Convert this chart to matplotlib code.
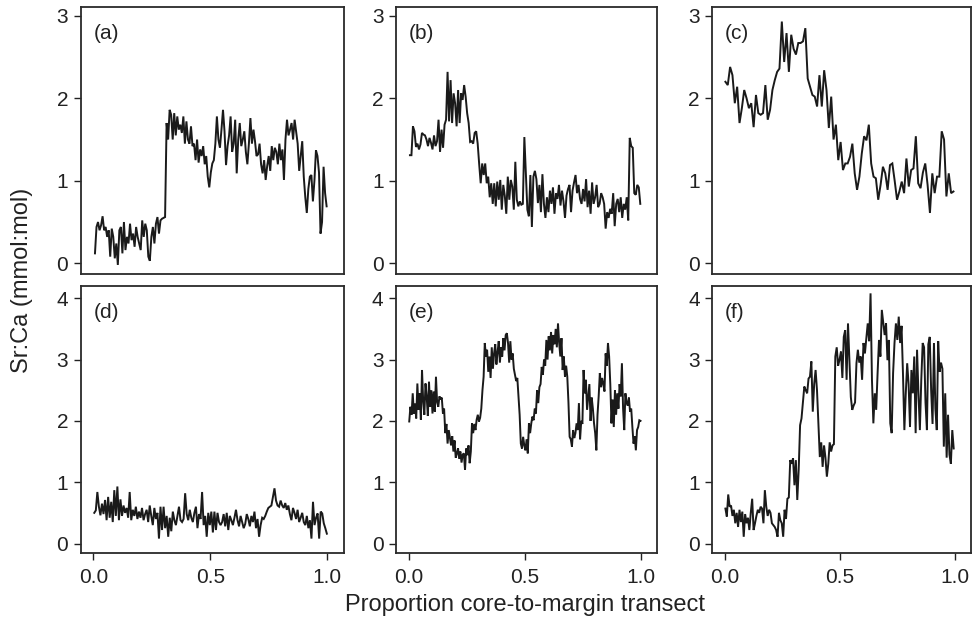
import matplotlib
matplotlib.use("Agg")
import matplotlib.pyplot as plt
import numpy as np

plt.rcParams['font.family'] = ['Liberation Sans', 'DejaVu Sans']

# ---------------- data ----------------
a_vals = [
    0.12, 0.44, 0.50, 0.40, 0.46, 0.57, 0.40, 0.44, 0.32, 0.40, 0.08, 0.42, 0.32, 0.06, 0.24, -0.02,
    0.40, 0.44, 0.12, 0.50, 0.16, 0.32, 0.24, 0.48, 0.28, 0.36, 0.20, 0.44, 0.32, 0.24, 0.16, 0.52,
    0.32, 0.48, 0.40, 0.08, 0.03, 0.32, 0.44, 0.24, 0.48, 0.56, 0.36, 0.52, 0.54, 0.55, 0.56,
    1.70, 1.50, 1.86, 1.80, 1.50, 1.82, 1.55, 1.78, 1.62, 1.68, 1.58, 1.78, 1.45, 1.72, 1.50, 1.45,
    1.66, 1.42, 1.45, 1.25, 1.50, 1.22, 1.38, 1.30, 1.42, 1.20, 1.30, 1.05, 0.92, 1.10, 1.21, 1.25,
    1.45, 1.78, 1.50, 1.40, 1.62, 1.86, 1.60, 1.19, 1.42, 1.55,
    1.78, 1.35, 1.45, 1.74, 1.09, 1.50, 1.70, 1.42, 1.50, 1.60,
    1.35, 1.20, 1.45, 1.76, 1.45, 1.62, 1.48, 1.30, 1.32, 1.45,
    1.20, 1.09, 1.25, 1.01, 1.18, 1.30, 1.12, 1.42, 1.25, 1.40,
    1.35, 1.20, 1.45, 1.25, 1.38, 1.01, 1.50, 1.74, 1.55, 1.62,
    1.70, 1.50, 1.74, 1.60, 1.45, 1.12, 1.30, 1.48, 1.05, 0.80,
    0.61, 0.90, 1.05, 1.07, 0.75, 1.00, 1.37, 1.30, 1.10, 0.36,
    0.50, 1.17, 0.85, 0.69]

b_vals = [
    1.31, 1.31, 1.66, 1.60, 1.41, 1.45, 1.38, 1.44, 1.58, 1.56, 1.55, 1.50, 1.42, 1.52, 1.46, 1.38,
    1.55, 1.42, 1.48, 1.74, 1.35, 1.62, 1.40, 1.68, 1.74,
    2.32, 1.72, 2.22, 1.70, 2.06, 1.94, 1.66, 2.10, 1.70, 2.06, 1.98, 2.16, 2.02, 1.82, 1.70, 1.47,
    1.48, 1.45, 1.58, 1.60, 1.45, 1.20, 0.97, 1.21, 1.07, 1.21, 0.97,
    1.05, 0.80, 0.97, 0.72, 0.97, 0.69, 0.99, 0.77, 1.01, 0.65, 0.95, 0.82, 0.60, 1.05, 0.77, 1.01,
    0.93, 0.65, 1.23, 0.77, 0.69, 0.75, 0.71, 0.72,
    1.53, 1.10, 0.65, 0.57, 1.07, 0.44,
    1.05, 1.12, 1.02, 0.73, 0.95, 0.62, 1.08, 0.72, 0.55, 0.80,
    0.62, 0.88, 0.72, 0.92, 0.60, 0.85, 0.78, 0.95, 0.70, 0.88,
    0.75, 0.55, 0.82, 0.90, 0.95, 0.62, 0.88, 0.98, 1.07, 0.85,
    0.95, 0.78, 0.72, 0.90, 0.75, 1.02, 0.68, 0.88, 0.60, 0.98,
    0.72, 0.80, 0.95, 0.68, 0.72, 0.85, 0.80, 0.72, 0.42, 0.62,
    0.55, 0.66, 0.60, 0.85, 0.45, 0.72, 0.78, 0.62, 0.80, 0.55,
    0.72, 0.65, 0.80, 0.52, 1.52, 1.42, 1.40, 0.85, 0.83, 0.95,
    0.92, 0.72]

c_vals = [
    2.20, 2.16, 2.38, 2.28, 1.94, 2.14, 1.70, 1.88,
    2.10, 2.00, 1.88, 1.94, 1.65, 2.04, 1.82, 1.80, 1.82,
    2.16, 1.74, 1.86, 2.10, 2.22, 2.32, 2.36, 2.93, 2.44,
    2.79, 2.32, 2.77, 2.60, 2.53, 2.67, 2.67, 2.69, 2.85, 2.24,
    2.14, 2.04, 2.02, 1.90, 2.28, 1.90, 2.34, 2.10, 1.64, 2.02,
    1.50, 1.68, 1.25, 1.47, 1.13, 1.21, 1.21, 1.29, 1.45, 1.09,
    0.89, 1.05, 1.33, 1.54, 1.49, 1.68, 1.21, 1.05, 1.03, 0.77, 0.95,
    1.17, 1.09, 0.89, 1.19, 1.21, 1.00, 0.77, 0.87, 0.99, 0.85,
    1.27, 0.93, 1.13, 1.15, 1.54, 0.97, 0.91, 1.10, 1.21, 0.95, 0.61,
    1.09, 0.85, 1.05, 1.05, 1.60, 1.50, 0.81, 1.09, 0.85, 0.87]

d_vals = [
    0.50, 0.54, 0.84, 0.60, 0.46, 0.65, 0.48, 0.71, 0.38, 0.76, 0.42, 0.68, 0.35, 0.87, 0.45, 0.93,
    0.38, 0.72, 0.45, 0.62, 0.50, 0.58, 0.42, 0.84, 0.38, 0.55, 0.45, 0.60, 0.40, 0.52, 0.42, 0.58,
    0.38, 0.48, 0.55, 0.35, 0.62, 0.45, 0.30, 0.58, 0.40, 0.50, 0.08,
    0.60, 0.22, 0.60, 0.25, 0.45, 0.11, 0.42, 0.20, 0.52, 0.38,
    0.30, 0.45, 0.60, 0.38, 0.35, 0.40, 0.82, 0.48, 0.38, 0.55,
    0.42, 0.35, 0.50, 0.60, 0.25, 0.48, 0.40, 0.84, 0.30, 0.45,
    0.11, 0.50, 0.30, 0.52, 0.18, 0.52, 0.22, 0.50, 0.35, 0.30,
    0.35, 0.48, 0.28, 0.50, 0.22, 0.45, 0.38, 0.30,
    0.42, 0.55, 0.38, 0.28, 0.45, 0.35, 0.25, 0.32, 0.48, 0.40,
    0.28, 0.45, 0.35, 0.52, 0.25, 0.40, 0.11, 0.30, 0.42, 0.40,
    0.45, 0.52, 0.58, 0.60, 0.62, 0.76, 0.90, 0.70, 0.62, 0.60,
    0.70, 0.62, 0.58, 0.66, 0.55, 0.62, 0.48, 0.38, 0.58, 0.50, 0.40, 0.55, 0.35, 0.42, 0.50, 0.35,
    0.30, 0.45, 0.25, 0.38, 0.08, 0.68, 0.30, 0.42, 0.49, 0.08, 0.52, 0.49, 0.33, 0.25, 0.16]

e_vals = [
    1.99, 2.23, 2.10, 2.45, 2.12, 2.28, 2.04, 2.61, 2.18, 2.45,
    2.02, 2.83, 2.32, 2.10, 2.61, 2.40, 2.08, 2.64, 2.23, 2.50,
    2.12, 2.48, 2.15, 2.72, 2.30, 2.23, 2.40, 2.35, 2.38, 2.12,
    2.20, 1.80, 1.95, 1.63, 1.85, 1.72, 1.60, 1.75, 1.50, 1.68,
    1.40, 1.47, 1.55, 1.38, 1.50, 1.32, 1.45, 1.47, 1.20,
    1.55, 1.44, 1.60, 1.31, 1.50, 1.96, 1.80, 1.95, 1.85, 2.02,
    2.10, 1.99, 2.05, 2.20, 2.50, 2.72, 3.27, 3.05, 3.16, 2.80,
    3.05, 2.70, 3.20, 2.85, 3.10, 3.25, 2.92, 3.12, 3.30, 2.95,
    3.20, 3.05, 3.35, 3.15, 3.40, 3.43,
    3.27, 2.95, 3.30, 3.00, 3.10, 2.85, 2.75, 2.65, 2.70, 2.39,
    2.10, 1.63, 1.55, 1.74, 1.60, 1.52, 1.70, 1.47,
    1.96, 1.80, 1.96, 2.07, 2.01, 2.20, 2.12, 2.50, 2.29, 2.55,
    2.60, 2.88, 2.75, 3.00, 2.90, 3.32, 3.00, 3.38, 3.15, 3.45,
    3.10, 3.40, 3.25, 3.50, 3.20, 3.59,
    3.27, 3.05, 3.35, 2.83, 3.05, 2.72, 2.90, 2.72, 2.30, 1.74, 1.70, 1.58,
    1.85, 1.72, 1.80, 1.96, 1.85, 2.29, 1.70, 2.00, 1.95, 2.83,
    2.45, 2.67, 2.18, 2.40, 2.60, 2.00, 2.38, 2.20, 1.96, 1.80, 1.52,
    2.10, 2.40, 2.78, 2.55, 2.70, 2.60, 2.48, 3.10, 2.90, 3.27,
    3.05, 2.60, 1.96, 2.35, 1.90, 2.50, 2.10, 2.45, 2.20, 2.60,
    2.40, 2.94, 2.20, 1.85, 2.45, 2.30, 2.25, 2.38, 2.15, 2.20,
    1.90, 1.63, 1.75, 1.52,
    1.85, 1.90, 2.01, 2.00]

f_vals = [
    0.57, 0.44, 0.80, 0.60, 0.62, 0.45, 0.55, 0.33, 0.50, 0.27,
    0.55, 0.35, 0.52, 0.11, 0.48, 0.33, 0.42, 0.22, 0.50, 0.73,
    0.22, 0.33, 0.45, 0.55, 0.50, 0.60, 0.57, 0.33, 0.87, 0.60,
    0.45, 0.55, 0.50, 0.33, 0.30, 0.27, 0.22, 0.11, 0.50, 0.38,
    0.33, 0.11, 0.55, 0.40,
    0.73, 0.75, 1.36, 1.30, 1.39, 0.95, 1.36, 0.71, 1.20, 1.93,
    2.04, 2.30, 2.56, 2.50, 2.45, 2.69, 2.72, 2.97, 2.15, 2.60,
    2.83, 2.50, 1.96, 1.41, 1.65, 1.25, 1.60, 1.40, 1.09, 1.30, 1.65,
    1.50, 1.60, 1.62, 3.05, 3.20, 2.90, 3.00, 3.13, 2.70, 3.37, 3.48,
    2.67, 3.59, 3.00, 2.39, 2.18, 2.25, 2.30, 2.94, 3.16, 2.95, 3.05, 2.67,
    3.27, 3.10, 3.35, 3.59, 3.30, 4.08,
    2.67, 1.96, 2.45, 2.18, 2.78, 3.32, 3.05, 3.81, 3.60, 3.40,
    3.59, 2.99, 3.32, 1.96, 1.80, 2.78, 3.27, 3.59, 3.32, 3.70,
    3.27, 3.55, 2.78, 1.85, 2.45, 2.94, 2.60, 1.90, 2.83, 2.45,
    3.05, 1.80, 3.16, 2.45, 1.85, 2.67, 3.27, 3.20, 2.30, 1.85,
    3.25, 3.37, 2.50, 1.95, 3.27, 2.20, 1.85, 3.30, 2.80, 2.95,
    2.85, 1.58, 2.45, 1.40, 2.10, 1.45, 1.30, 1.85, 1.55]

series = [a_vals, b_vals, c_vals, d_vals, e_vals, f_vals]
panel_labels = ["(a)", "(b)", "(c)", "(d)", "(e)", "(f)"]
x_start = [0.007, 0.006, 0.003, 0.004, 0.003, 0.003]
x_end = [0.997, 0.998, 0.995, 0.998, 0.999, 0.996]
top_yticks = [0, 1, 2, 3]
bottom_yticks = [0, 1, 2, 3, 4]
xticks = [0.0, 0.5, 1.0]
xtick_labels = ["0.0", "0.5", "1.0"]

# ---------------- figure ----------------
W, H = 972, 626
fig = plt.figure(figsize=(W / 100, H / 100), dpi=100)

lefts = [80.7, 396.0, 712.3]
widths = [263.0, 261.0, 258.4]
rows = [(6.7, 274.0), (286.0, 552.7)]

line_col = "#1a1a1a"
for i, vals in enumerate(series):
    r, c = divmod(i, 3)
    top, bot = rows[r]
    ax = fig.add_axes([lefts[c] / W, 1 - bot / H, widths[c] / W, (bot - top) / H])
    x = np.linspace(x_start[i], x_end[i], len(vals))
    ax.plot(x, vals, color=line_col, lw=1.4, solid_joinstyle="miter")
    ax.set_xlim(-0.054, 1.07)
    if r == 0:
        ax.set_ylim(-0.13, 3.11)
        ax.set_yticks(top_yticks)
        ax.set_xticks([])
    else:
        ax.set_ylim(-0.15, 4.2)
        ax.set_yticks(bottom_yticks)
        ax.set_xticks(xticks)
        ax.set_xticklabels(xtick_labels)
    ax.tick_params(axis="both", direction="out", length=5, width=1.0,
                   labelsize=15, colors="#222222", pad=4)
    ax.tick_params(axis="x", pad=6)
    for sp in ax.spines.values():
        sp.set_linewidth(1.3)
        sp.set_color("#2a2a2a")
    ax.text(0.048, 0.90, panel_labels[i], transform=ax.transAxes,
            fontsize=15, color="#222222", ha="left", va="center")

fig.text(525 / W, 1 - 605 / H, "Proportion core-to-margin transect",
         fontsize=17, color="#222222", ha="center", va="center")
fig.text(22 / W, 1 - 280 / H, "Sr:Ca (mmol:mol)", rotation=90,
         fontsize=17, color="#222222", ha="center", va="center")

fig.savefig("out.png", dpi=100)
